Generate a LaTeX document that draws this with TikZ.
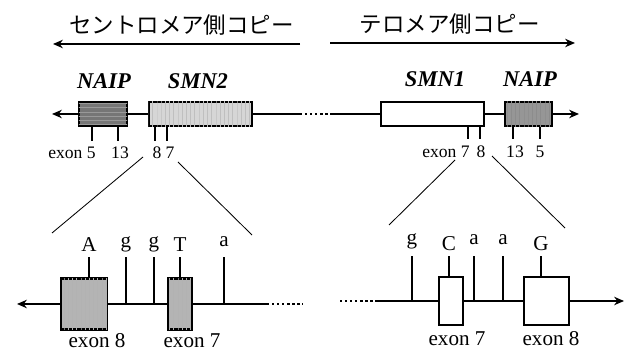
\documentclass[tikz,border=0pt]{standalone}
\usepackage{fontspec}
\setmainfont{Liberation Serif}
\newfontfamily\jpfont{Noto Sans CJK JP}
\usetikzlibrary{
  arrows.meta,
  positioning,
  patterns,
}
\definecolor{naipdark}{RGB}{118,118,118}
\definecolor{smnlight}{RGB}{214,214,214}
\definecolor{naipmid}{RGB}{150,150,150}
\definecolor{exonfill}{RGB}{180,180,180}
\tikzset{
  copytitle/.style={font=\jpfont\fontsize{16}{19}\selectfont, inner sep=0pt},
  dirarrow/.style={-{Stealth[length=7pt,width=6pt]}, line width=1.3pt},
  chrline/.style={line width=1.2pt},
  chrarrow/.style={chrline, -{Stealth[length=7pt,width=6pt]}},
  gapdots/.style={line width=1.4pt, dash pattern=on 1.6pt off 2pt},
  genebox/.style={
    rectangle, draw, line width=1.6pt, inner sep=0pt,
    minimum height=0.6cm
  },
  genename/.style={font=\fontsize{16}{19}\selectfont\bfseries\itshape, inner sep=0pt},
  exontick/.style={line width=1.8pt},
  exonnum/.style={font=\fontsize{12.5}{14}\selectfont, inner sep=0pt},
  zoomline/.style={line width=0.6pt},
  exonbig/.style={rectangle, draw, line width=1.6pt, inner sep=0pt},
  basestem/.style={line width=1.6pt},
  baselbl/.style={font=\fontsize{15}{18}\selectfont, inner sep=0pt, anchor=base},
  exonname/.style={font=\fontsize{15}{18}\selectfont, inner sep=0pt},
}

\begin{document}
\begin{tikzpicture}[x=0.025cm, y=-0.025cm]
  \useasboundingbox (0,0) rectangle (632,353);

  % ── Copy titles and direction arrows ──
  \node[copytitle] (cenT) at (181.5,25) {セントロメア側コピー};
  \node[copytitle] (telT) at (449.5,24) {テロメア側コピー};
  \coordinate (cenA) at (300,44);
  \coordinate (cenB) at (53,44);
  \coordinate (telA) at (330,43);
  \coordinate (telB) at (575,43);
  \draw[dirarrow] (cenA) -- (cenB);
  \draw[dirarrow] (telA) -- (telB);

  % ── Gene boxes ──
  \node[genebox, minimum width=1.2cm, fill=naipdark,
        postaction={pattern=horizontal lines, pattern color=black!40}] (naipL) at (103,114) {};
  \node[genebox, minimum width=2.575cm, fill=smnlight,
        postaction={pattern=vertical lines, pattern color=black!25}] (smn2) at (200.5,114) {};
  \node[genebox, minimum width=2.575cm, fill=white] (smn1) at (432.5,114) {};
  \node[genebox, minimum width=1.175cm, fill=naipmid,
        postaction={pattern=vertical lines, pattern color=black!45}] (naipR) at (528.5,114) {};

  \node[genename] at (104,81) {NAIP};
  \node[genename] at (198,81) {SMN2};
  \node[genename] at (435,79) {SMN1};
  \node[genename] at (530,79) {NAIP};

  % ── Chromosome line ──
  \coordinate (tipL) at (52,114);
  \coordinate (gapA) at (300,114);
  \coordinate (gapB) at (330,114);
  \coordinate (tipR) at (579,114);
  \draw[chrarrow] (naipL.west) -- (tipL);
  \draw[chrline] (naipL.east) -- (smn2.west);
  \draw[chrline] (smn2.east) -- (gapA);
  \draw[gapdots] (gapA) -- (gapB);
  \draw[chrline] (gapB) -- (smn1.west);
  \draw[chrline] (smn1.east) -- (naipR.west);
  \draw[chrarrow] (naipR.east) -- (tipR);

  % ── Exon ticks ──
  \draw[exontick] (naipL.south -| 92,0) -- (92,141);
  \draw[exontick] (naipL.south -| 118,0) -- (118,141);
  \draw[exontick] (smn2.south -| 155,0) -- (155,141);
  \draw[exontick] (smn2.south -| 167,0) -- (167,141);
  \draw[exontick] (smn1.south -| 468,0) -- (468,139);
  \draw[exontick] (smn1.south -| 480,0) -- (480,139);
  \draw[exontick] (naipR.south -| 513,0) -- (513,139);
  \draw[exontick] (naipR.south -| 540,0) -- (540,139);

  \node[exonnum] (nL5)  at (72,153)  {exon 5};
  \node[exonnum] (nL13) at (120,153) {13};
  \node[exonnum] (nL8)  at (157,153) {8};
  \node[exonnum] (nL7)  at (170,153) {7};
  \node[exonnum] (nR7)  at (446,152) {exon 7};
  \node[exonnum] (nR8)  at (481,152) {8};
  \node[exonnum] (nR13) at (515,152) {13};
  \node[exonnum] (nR5)  at (540,152) {5};

  % ── Zoom lines ──
  \coordinate (zL1) at (143,157);
  \coordinate (zL2) at (52,233);
  \coordinate (zL3) at (178,162);
  \coordinate (zL4) at (252,235);
  \coordinate (zR1) at (455,160);
  \coordinate (zR2) at (389,225);
  \coordinate (zR3) at (492,156);
  \coordinate (zR4) at (565,228);
  \draw[zoomline] (zL1) -- (zL2);
  \draw[zoomline] (zL3) -- (zL4);
  \draw[zoomline] (zR1) -- (zR2);
  \draw[zoomline] (zR3) -- (zR4);

  % ── Close-up: SMN2 ──
  \node[exonbig, minimum width=1.15cm, minimum height=1.275cm, fill=exonfill,
        postaction={pattern=vertical lines, pattern color=black!30}] (ex8L) at (84,304) {};
  \node[exonbig, minimum width=0.6cm, minimum height=1.275cm, fill=exonfill,
        postaction={pattern=vertical lines, pattern color=black!30}] (ex7L) at (180,304) {};
  \coordinate (btipL) at (17,304);
  \coordinate (bgapL) at (267,304);
  \coordinate (bendL) at (303,304);
  \draw[chrarrow] (ex8L.west) -- (btipL);
  \draw[chrline] (ex8L.east) -- (ex7L.west);
  \draw[chrline] (ex7L.east) -- (bgapL);
  \draw[gapdots] (bgapL) -- (bendL);

  \draw[basestem] (ex8L.north -| 89,0) -- (89,257);
  \draw[basestem] (126,304) -- (126,257);
  \draw[basestem] (154,304) -- (154,257);
  \draw[basestem] (ex7L.north) -- (180,257);
  \draw[basestem] (224,304) -- (224,257);

  \node[baselbl] (bA)  at (89,252)  {A};
  \node[baselbl] (bg1) at (126,248) {g};
  \node[baselbl] (bg2) at (154,248) {g};
  \node[baselbl] (bT)  at (180,252) {T};
  \node[baselbl] (ba)  at (224,247) {a};

  \node[exonname] at (97,341)  {exon 8};
  \node[exonname] at (192,341) {exon 7};

  % ── Close-up: SMN1 ──
  \node[exonbig, minimum width=0.6cm, minimum height=1.2cm, fill=white] (ex7R) at (451,301) {};
  \node[exonbig, minimum width=1.125cm, minimum height=1.2cm, fill=white] (ex8R) at (546.5,301) {};
  \coordinate (bgapR) at (340,301);
  \coordinate (bstR)  at (377,301);
  \coordinate (btipR) at (624,301);
  \draw[gapdots] (bgapR) -- (bstR);
  \draw[chrline] (bstR) -- (ex7R.west);
  \draw[chrline] (ex7R.east) -- (ex8R.west);
  \draw[chrarrow] (ex8R.east) -- (btipR);

  \draw[basestem] (412,301) -- (412,256);
  \draw[basestem] (ex7R.north -| 449,0) -- (449,256);
  \draw[basestem] (474,301) -- (474,256);
  \draw[basestem] (503,301) -- (503,256);
  \draw[basestem] (ex8R.north -| 541,0) -- (541,256);

  \node[baselbl] (rg)  at (412,245) {g};
  \node[baselbl] (rC)  at (449,251) {C};
  \node[baselbl] (ra1) at (474,245) {a};
  \node[baselbl] (ra2) at (503,245) {a};
  \node[baselbl] (rG)  at (541,251) {G};

  \node[exonname] at (457,339) {exon 7};
  \node[exonname] at (551,339) {exon 8};

\end{tikzpicture}
\end{document}
